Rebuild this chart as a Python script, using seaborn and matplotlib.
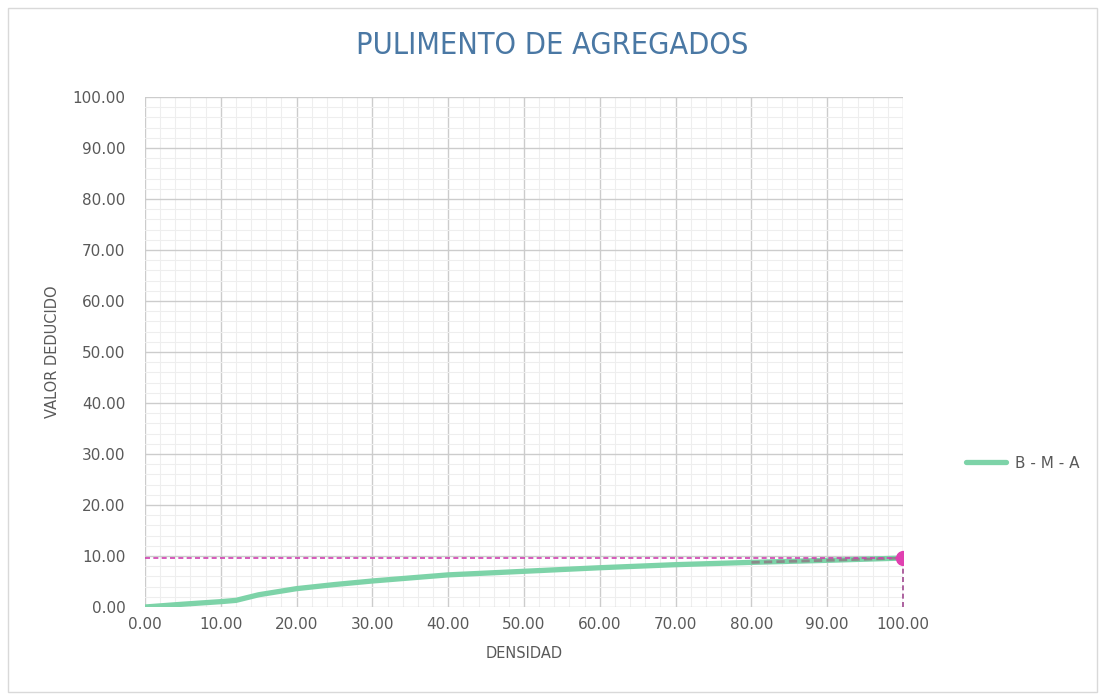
import matplotlib
matplotlib.use("Agg")
import matplotlib.pyplot as plt
from matplotlib.patches import Rectangle
from matplotlib.ticker import MultipleLocator, FormatStrFormatter
import seaborn as sns
import pandas as pd

# data
densidad = [0, 5, 10, 12, 15, 20, 25, 30, 40, 50, 60, 70, 80, 90, 100]
valor_deducido = [0, 0.55, 1.05, 1.3, 2.4, 3.6, 4.4, 5.1, 6.3, 7.0, 7.7, 8.3, 8.75, 9.15, 9.6]
series_name = "B - M - A"
densidad_obj = 100
vd_obj = 9.6
title = "PULIMENTO DE AGREGADOS"
xlabel = "DENSIDAD"
ylabel = "VALOR DEDUCIDO"

sns.set_theme(style="white")
plt.rcParams['font.family'] = ['DejaVu Sans']

fig = plt.figure(figsize=(11.05, 7.0), dpi=100)
ax = fig.add_axes([145/1105, 1-607/700, (903-145)/1105, (607-97)/700])

df = pd.DataFrame({"x": densidad, "y": valor_deducido})
sns.lineplot(data=df, x="x", y="y", ax=ax, color="#7dd3a8", linewidth=3.8,
             label=series_name, zorder=3)

# gray dashed overlay on the final segment
seg = df[df.x >= 80]
ax.plot(seg.x, seg.y, color="#8a8a8a", linewidth=2.0, linestyle=(0, (3, 1.5)), zorder=4)

# reference lines
ax.plot([0, densidad_obj], [vd_obj, vd_obj], color="#d040b0", linewidth=1.2,
        linestyle=(0, (3, 2)), zorder=4)
ax.plot([densidad_obj, densidad_obj], [0, vd_obj], color="#a04890", linewidth=1.2,
        linestyle=(0, (3, 2)), zorder=4, clip_on=False)
ax.plot([densidad_obj], [vd_obj], marker="o", markersize=10, color="#e040b0",
        zorder=5, clip_on=True)

ax.set_xlim(0, 100)
ax.set_ylim(0, 100)
ax.xaxis.set_major_locator(MultipleLocator(10))
ax.yaxis.set_major_locator(MultipleLocator(10))
ax.xaxis.set_minor_locator(MultipleLocator(2))
ax.yaxis.set_minor_locator(MultipleLocator(2))
ax.xaxis.set_major_formatter(FormatStrFormatter("%.2f"))
ax.yaxis.set_major_formatter(FormatStrFormatter("%.2f"))
ax.grid(which="major", color="#cccccc", linewidth=1.0)
ax.grid(which="minor", color="#eeeeee", linewidth=0.8)
ax.set_axisbelow(True)
for s in ax.spines.values():
    s.set_visible(False)
ax.tick_params(which="both", length=0, labelsize=11, labelcolor="#595959")
ax.tick_params(axis="x", pad=7)
ax.tick_params(axis="y", pad=14)

ax.set_xlabel(xlabel, fontsize=10.5, color="#595959", labelpad=10)
ax.set_ylabel(ylabel, fontsize=10.5, color="#595959", labelpad=9)

fig.text(0.5, 1-45/700, title, ha="center", va="center", fontsize=22,
         color="#4a78a4", fontstretch="condensed")

leg = ax.legend(loc="center left", bbox_to_anchor=(1.065, 0.282), frameon=False,
                fontsize=11, handlelength=2.6, handletextpad=0.6)
for t in leg.get_texts():
    t.set_color("#595959")

fig.patches.append(Rectangle((8/1105, 8/700), 1089/1105, 684/700, transform=fig.transFigure,
                             fill=False, edgecolor="#d9d9d9", linewidth=1))

fig.savefig("out.png", dpi=100)
